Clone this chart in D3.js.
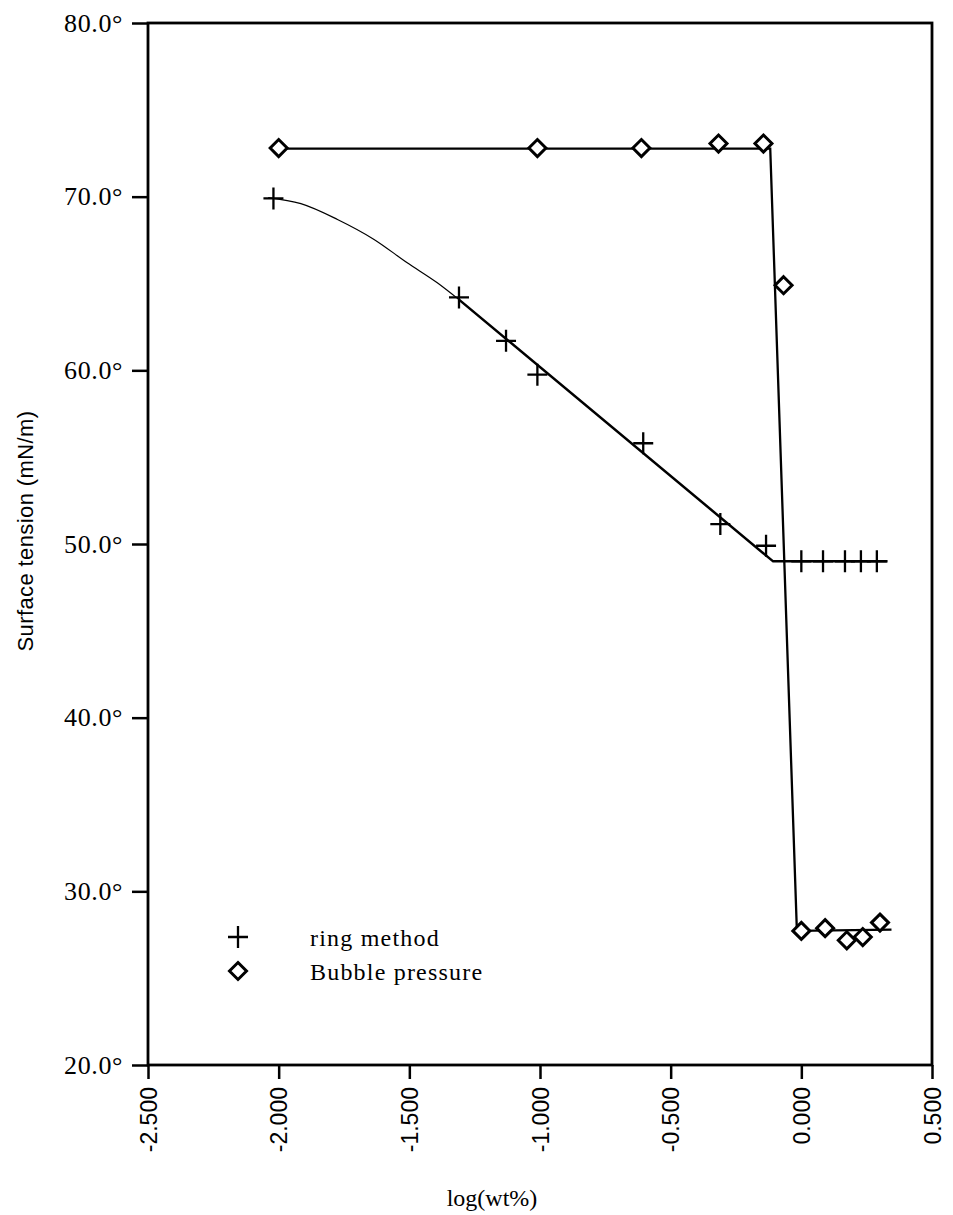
<!DOCTYPE html>
<html>
<head>
<meta charset="utf-8">
<script src="https://cdn.jsdelivr.net/npm/d3@7"></script>
<style>
  html, body { margin: 0; padding: 0; background: #fff; }
  svg { display: block; }
</style>
</head>
<body>
<svg id="chart" width="953" height="1215"></svg>
<script>
// Surface tension vs log concentration — ring method and bubble pressure

// axis ticks
const xTicks = [-2.5, -2.0, -1.5, -1.0, -0.5, 0.0, 0.5];
const yTicks = [20, 30, 40, 50, 60, 70, 80];

// measured points: ring method (+)
const ringX = [-2.02, -1.31, -1.13, -1.01, -0.605, -0.31, -0.135, 0.0, 0.083, 0.167, 0.228, 0.289];
const ringY = [69.9, 64.2, 61.7, 59.75, 55.8, 51.15, 49.9, 49.0, 49.0, 49.0, 49.0, 49.0];

// measured points: bubble pressure (diamond)
const bubbleX = [-2.0, -1.01, -0.612, -0.317, -0.145, -0.068, 0.0, 0.091, 0.174, 0.235, 0.301];
const bubbleY = [72.8, 72.8, 72.8, 73.06, 73.06, 64.9, 27.72, 27.88, 27.18, 27.37, 28.2];

// hand-drawn trend lines
const ringCurveX = [-2.04, -1.915, -1.775, -1.635, -1.508, -1.393, -1.31];
const ringCurveY = [69.95, 69.6, 68.69, 67.54, 66.19, 65.04, 64.07];
const ringFitX = [-1.31, -0.108, 0.33];
const ringFitY = [64.07, 49.0, 49.0];
const bubbleFitX = [-2.025, -0.119, -0.017, 0.345];
const bubbleFitY = [72.77, 72.77, 27.72, 27.8];

const legendLabels = ["ring method", "Bubble pressure"];

(function () {
  const svg = d3.select("#chart");
  const pLeft = 148, pRight = 932, pTop = 23, pBottom = 1065;

  const x = d3.scaleLinear().domain([-2.5, 0.5]).range([pLeft, pRight]);
  const y = d3.scaleLinear().domain([20, 80]).range([pBottom, pTop]);

  const serif = "'Liberation Serif', 'Times New Roman', serif";
  const sans = "'Liberation Sans', Arial, sans-serif";

  // y axis
  const gy = svg.append("g")
    .attr("transform", `translate(${pLeft},0)`)
    .call(d3.axisLeft(y).tickValues(yTicks).tickSize(16).tickPadding(9)
      .tickFormat(d => d.toFixed(1) + "\u00B0"));
  gy.select(".domain").remove();
  gy.selectAll(".tick line").attr("stroke", "#000").attr("stroke-width", 2.5);
  gy.selectAll(".tick text")
    .attr("font-family", serif).attr("font-size", 26)
    .attr("letter-spacing", 0.6).attr("fill", "#000");

  // x axis with vertical labels
  const gx = svg.append("g")
    .attr("transform", `translate(0,${pBottom})`)
    .call(d3.axisBottom(x).tickValues(xTicks).tickSize(14)
      .tickFormat(d => d.toFixed(3)));
  gx.select(".domain").remove();
  gx.selectAll(".tick line").attr("stroke", "#000").attr("stroke-width", 2.5);
  gx.selectAll(".tick text")
    .attr("font-family", sans).attr("font-size", 23).attr("fill", "#000")
    .attr("transform", "rotate(-90)")
    .attr("x", -22).attr("y", 0).attr("dy", "0.35em")
    .attr("text-anchor", "end");

  // frame
  svg.append("rect")
    .attr("x", pLeft).attr("y", pTop)
    .attr("width", pRight - pLeft).attr("height", pBottom - pTop)
    .attr("fill", "none").attr("stroke", "#000").attr("stroke-width", 2.8);

  // axis titles
  svg.append("text")
    .attr("transform", "translate(33,531) rotate(-90)")
    .attr("text-anchor", "middle")
    .attr("font-family", sans).attr("font-size", 22).attr("fill", "#000")
    .attr("letter-spacing", 0.4)
    .text("Surface tension (mN/m)");

  svg.append("text")
    .attr("x", 492).attr("y", 1206)
    .attr("text-anchor", "middle")
    .attr("font-family", serif).attr("font-size", 24).attr("fill", "#000")
    .text("log(wt%)");

  // trend lines
  const pairs = (xs, ys) => xs.map((v, i) => [v, ys[i]]);
  const straight = d3.line().x(d => x(d[0])).y(d => y(d[1]));
  const smooth = d3.line().x(d => x(d[0])).y(d => y(d[1])).curve(d3.curveMonotoneX);

  svg.append("path")
    .attr("d", smooth(pairs(ringCurveX, ringCurveY)))
    .attr("fill", "none").attr("stroke", "#000").attr("stroke-width", 1.2);
  svg.append("path")
    .attr("d", straight(pairs(ringFitX, ringFitY)))
    .attr("fill", "none").attr("stroke", "#000").attr("stroke-width", 2.5);
  svg.append("path")
    .attr("d", straight(pairs(bubbleFitX, bubbleFitY)))
    .attr("fill", "none").attr("stroke", "#000").attr("stroke-width", 2.3);

  // marker shapes
  const crossPath = "M-10,0H10M0,-11V11";
  const diamondPath = "M0,-8.5L8.5,0L0,8.5L-8.5,0Z";

  svg.append("g").selectAll("path")
    .data(pairs(ringX, ringY))
    .join("path")
    .attr("transform", d => `translate(${x(d[0])},${y(d[1])})`)
    .attr("d", crossPath)
    .attr("fill", "none").attr("stroke", "#000").attr("stroke-width", 2.3);

  svg.append("g").selectAll("path")
    .data(pairs(bubbleX, bubbleY))
    .join("path")
    .attr("transform", d => `translate(${x(d[0])},${y(d[1])})`)
    .attr("d", diamondPath)
    .attr("fill", "#fff").attr("stroke", "#000").attr("stroke-width", 3);

  // legend
  const legend = svg.append("g");
  legend.append("path")
    .attr("transform", "translate(238,937)")
    .attr("d", crossPath)
    .attr("fill", "none").attr("stroke", "#000").attr("stroke-width", 2.3);
  legend.append("path")
    .attr("transform", "translate(238,971)")
    .attr("d", diamondPath)
    .attr("fill", "#fff").attr("stroke", "#000").attr("stroke-width", 3);
  legend.selectAll("text")
    .data(legendLabels)
    .join("text")
    .attr("x", 310).attr("y", (d, i) => 946 + i * 34)
    .attr("font-family", serif).attr("font-size", 24)
    .attr("letter-spacing", 1.2).attr("fill", "#000")
    .text(d => d);
})();
</script>
</body>
</html>
